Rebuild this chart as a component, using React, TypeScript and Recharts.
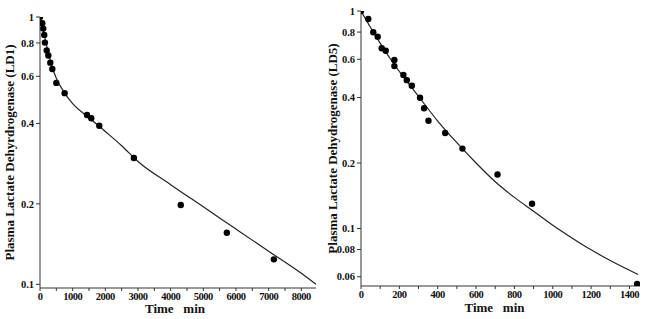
import React from 'react';
import { ComposedChart, Line, Scatter, XAxis, YAxis } from 'recharts';

// LD1 measured points
const ld1Times = [0, 70, 100, 130, 150, 205, 255, 315, 377, 500, 755, 1440, 1570, 1815, 2875, 4310, 5720, 7160];
const ld1Values = [1.0, 0.947, 0.905, 0.857, 0.802, 0.75, 0.718, 0.675, 0.639, 0.567, 0.519, 0.43, 0.418, 0.392, 0.297, 0.198, 0.156, 0.124];

// LD1 fitted curve
const ld1CurveTimes = [0, 50, 100, 150, 200, 300, 400, 500, 750, 1000, 1500, 2000, 2500, 3000, 4000, 5000, 6000, 7000, 8000, 8450];
const ld1CurveValues = [1.0, 0.94, 0.89, 0.835, 0.785, 0.7, 0.635, 0.59, 0.52, 0.474, 0.42, 0.373, 0.33, 0.288, 0.236, 0.195, 0.161, 0.133, 0.11, 0.1];

// LD5 measured points
const ld5Times = [0, 38, 64, 87, 108, 129, 174, 174, 221, 239, 265, 308, 329, 352, 439, 529, 712, 892, 1440];
const ld5Values = [1.0, 0.919, 0.798, 0.762, 0.674, 0.657, 0.595, 0.558, 0.508, 0.481, 0.453, 0.399, 0.357, 0.313, 0.275, 0.233, 0.177, 0.13, 0.0556];

// LD5 fitted curve
const ld5CurveTimes = [0, 50, 100, 150, 200, 300, 400, 500, 600, 700, 800, 900, 1000, 1100, 1200, 1300, 1445];
const ld5CurveValues = [1.0, 0.84, 0.712, 0.608, 0.527, 0.405, 0.312, 0.248, 0.2, 0.164, 0.139, 0.12, 0.1035, 0.0905, 0.0798, 0.0712, 0.0614];

const ld1YTicks = [0.1, 0.2, 0.4, 0.6, 0.8, 1];
const ld5YTicks = [0.06, 0.08, 0.1, 0.2, 0.4, 0.6, 0.8, 1];
const ld1XTicks = [0, 500, 1000, 1500, 2000, 2500, 3000, 3500, 4000, 4500, 5000, 5500, 6000, 6500, 7000, 7500, 8000];
const ld5XTicks = [0, 100, 200, 300, 400, 500, 600, 700, 800, 900, 1000, 1100, 1200, 1300, 1400];

const zip = (ts: number[], vs: number[]) => ts.map((t, i) => ({ t, v: vs[i] }));

const font = '"Liberation Serif", "Times New Roman", serif';
const tickStyle = { fontSize: 10.5, fontWeight: 700, fontFamily: font, fill: '#111' };
const titleStyle = { fontSize: 13, fontWeight: 700, fontFamily: font, fill: '#111' };

const Dot = (p: any) => <circle cx={p.cx} cy={p.cy} r={3.2} fill="#000" />;

interface PanelProps {
  left: number;
  width: number;
  top: number;
  yAxisWidth: number;
  xAxisHeight: number;
  rightMargin: number;
  xDomain: [number, number];
  yDomain: [number, number];
  xTicks: number[];
  xLabelEvery: number;
  yTicks: number[];
  points: { t: number; v: number }[];
  curve: { t: number; v: number }[];
  yTitle: string;
  yTitleDx: number;
  xTitleDx: number;
  xTitleOffset: number;
}

const Panel: React.FC<PanelProps> = (p) => (
  <div style={{ position: 'absolute', left: p.left, top: 0 }}>
    <ComposedChart
      width={p.width}
      height={319}
      margin={{ top: p.top, right: p.rightMargin, bottom: 0, left: 0 }}
    >
      <XAxis
        dataKey="t"
        type="number"
        domain={p.xDomain}
        allowDataOverflow
        ticks={p.xTicks}
        interval={0}
        tickFormatter={(v: number) => (v % p.xLabelEvery === 0 ? String(v) : '')}
        tickSize={3}
        tickMargin={2}
        height={p.xAxisHeight}
        stroke="#333"
        tick={{ ...tickStyle, letterSpacing: -0.5 }}
        label={{
          value: 'Time\u00a0\u00a0 min',
          position: 'insideBottom',
          offset: p.xTitleOffset,
          dx: p.xTitleDx,
          style: titleStyle,
        }}
      />
      <YAxis
        dataKey="v"
        type="number"
        scale="log"
        domain={p.yDomain}
        allowDataOverflow
        ticks={p.yTicks}
        interval={0}
        width={p.yAxisWidth}
        tickSize={4}
        tickMargin={2}
        stroke="#333"
        tick={tickStyle}
        label={{
          value: p.yTitle,
          angle: -90,
          position: 'insideLeft',
          dx: p.yTitleDx,
          style: { ...titleStyle, textAnchor: 'middle' },
        }}
      />
      <Line
        data={p.curve}
        dataKey="v"
        type="monotone"
        stroke="#222"
        strokeWidth={1.2}
        dot={false}
        activeDot={false}
        isAnimationActive={false}
      />
      <Scatter data={p.points} dataKey="v" shape={Dot} isAnimationActive={false} />
    </ComposedChart>
  </div>
);

export default function App() {
  return (
    <div style={{ position: 'absolute', left: 0, top: 0, width: 645, height: 319, background: '#fff' }}>
      <Panel
        left={0}
        width={330}
        top={17}
        yAxisWidth={40}
        xAxisHeight={31}
        rightMargin={14}
        xDomain={[0, 8450]}
        yDomain={[0.0969, 1]}
        xTicks={ld1XTicks}
        xLabelEvery={1000}
        yTicks={ld1YTicks}
        points={zip(ld1Times, ld1Values)}
        curve={zip(ld1CurveTimes, ld1CurveValues)}
        yTitle="Plasma Lactate Dehyrdrogenase (LD1)"
        yTitleDx={4}
        xTitleDx={-3}
        xTitleOffset={6}
      />
      <Panel
        left={325}
        width={320}
        top={11}
        yAxisWidth={36}
        xAxisHeight={33}
        rightMargin={5}
        xDomain={[0, 1455]}
        yDomain={[0.0544, 1]}
        xTicks={ld5XTicks}
        xLabelEvery={200}
        yTicks={ld5YTicks}
        points={zip(ld5Times, ld5Values)}
        curve={zip(ld5CurveTimes, ld5CurveValues)}
        yTitle="Plasma Lactate Dehydrogenase (LD5)"
        yTitleDx={2}
        xTitleDx={-6}
        xTitleOffset={7}
      />
    </div>
  );
}
